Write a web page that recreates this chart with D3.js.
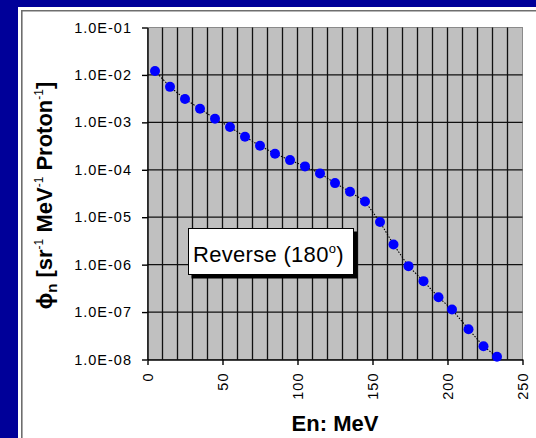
<!DOCTYPE html>
<html>
<head>
<meta charset="utf-8">
<script src="https://cdn.jsdelivr.net/npm/d3@7"></script>
<style>
  html, body { margin: 0; padding: 0; background: #ffffff; overflow: hidden; }
  svg { display: block; }
  text { font-family: "Liberation Sans", Arial, sans-serif; }
</style>
</head>
<body>
<svg id="chart" width="536" height="438"></svg>
<script>
// Neutron energy (MeV) and reverse-direction (180°) flux per proton
const energy = [5, 15, 25, 35, 45, 55, 65, 75, 85, 95, 105, 115, 125, 135, 145, 155,
                164, 174, 184, 194, 203, 214, 224, 233];
const flux = [1.21e-2, 5.6e-3, 3.1e-3, 1.94e-3, 1.19e-3, 7.96e-4, 4.97e-4, 3.2e-4,
              2.18e-4, 1.60e-4, 1.18e-4, 8.4e-5, 5.24e-5, 3.43e-5, 2.15e-5, 7.9e-6,
              2.67e-6, 9.3e-7, 4.49e-7, 2.06e-7, 1.13e-7, 4.36e-8, 1.9e-8, 1.14e-8];

const xTicks = [0, 50, 100, 150, 200, 250];
const xGrid = d3.range(0, 251, 10);
const yTicks = [1e-1, 1e-2, 1e-3, 1e-4, 1e-5, 1e-6, 1e-7, 1e-8];
const yTickLabels = ["1.0E-01", "1.0E-02", "1.0E-03", "1.0E-04",
                     "1.0E-05", "1.0E-06", "1.0E-07", "1.0E-08"];

const svg = d3.select("#chart");
const plot = { left: 147.5, right: 522.5, top: 27.5, bottom: 359.5 };

const x = d3.scaleLinear().domain([0, 250]).range([plot.left, plot.right]);
const y = d3.scaleLog().domain([1e-8, 1e-1]).range([plot.bottom, plot.top]);

// slide background: blue band on top and left, white panel with a grey frame
svg.append("rect").attr("width", 536).attr("height", 438).attr("fill", "#000099");
svg.append("rect").attr("x", 18).attr("y", 7).attr("width", 518).attr("height", 431)
  .attr("fill", "#ffffff");
svg.append("path")
  .attr("d", "M21.8,438 V10.8 H536")
  .attr("fill", "none").attr("stroke", "#6e6e6e").attr("stroke-width", 1.6);

// plot background
svg.append("rect")
  .attr("x", plot.left).attr("y", plot.top)
  .attr("width", plot.right - plot.left).attr("height", plot.bottom - plot.top)
  .attr("fill", "#c0c0c0").attr("stroke", "#8a8a8a").attr("stroke-width", 1);

// grid
const grid = svg.append("g").attr("stroke", "#111").attr("stroke-width", 1.3);
grid.selectAll("line.v").data(xGrid.filter(d => d > 0 && d < 250)).join("line")
  .attr("x1", d => x(d)).attr("x2", d => x(d))
  .attr("y1", plot.top).attr("y2", plot.bottom);
grid.selectAll("line.h").data(yTicks.filter(d => d < 1e-1 && d > 1e-8)).join("line")
  .attr("x1", plot.left).attr("x2", plot.right)
  .attr("y1", d => y(d)).attr("y2", d => y(d));

// axes
const yAxis = svg.append("g")
  .attr("transform", `translate(${plot.left},0)`)
  .call(d3.axisLeft(y).tickValues(yTicks)
    .tickFormat((d, i) => yTickLabels[i]).tickSize(5.5).tickPadding(10).tickSizeOuter(0));
const xAxis = svg.append("g")
  .attr("transform", `translate(0,${plot.bottom})`)
  .call(d3.axisBottom(x).tickValues(xTicks).tickSize(5.5).tickSizeOuter(0));

[yAxis, xAxis].forEach(a => {
  a.select(".domain").attr("stroke", "#000").attr("stroke-width", 1.4);
  a.selectAll(".tick line").attr("stroke", "#000").attr("stroke-width", 1.4);
  a.selectAll(".tick text").attr("fill", "#000")
    .style("font-family", '"Liberation Sans", Arial, sans-serif')
    .style("font-size", "14.5px").style("letter-spacing", "1px");
});
xAxis.selectAll(".tick text")
  .attr("transform", "rotate(-90)")
  .attr("text-anchor", "end")
  .attr("x", -13).attr("y", 0).attr("dy", "0.36em");

// connecting dotted curve
svg.append("path")
  .datum(energy.map((e, i) => [e, flux[i]]))
  .attr("fill", "none").attr("stroke", "#000").attr("stroke-width", 1.1)
  .attr("stroke-dasharray", "1.5,1.5")
  .attr("d", d3.line().x(d => x(d[0])).y(d => y(d[1])));

// data points
svg.append("g").selectAll("circle")
  .data(energy.map((e, i) => [e, flux[i]])).join("circle")
  .attr("cx", d => x(d[0])).attr("cy", d => y(d[1]))
  .attr("r", 5).attr("fill", "#0000ff");

// annotation box
svg.append("rect").attr("x", 191.5).attr("y", 231.5).attr("width", 166).attr("height", 47)
  .attr("fill", "#000");
svg.append("rect").attr("x", 188.5).attr("y", 228.5).attr("width", 165).attr("height", 46)
  .attr("fill", "#fff").attr("stroke", "#000").attr("stroke-width", 1);
const note = svg.append("text").attr("x", 193).attr("y", 262)
  .attr("font-size", 22).attr("fill", "#000").style("letter-spacing", "0.3px");
note.append("tspan").text("Reverse (180");
note.append("tspan").attr("dy", -9).attr("font-size", 13).text("o");
note.append("tspan").attr("dy", 9).text(")");

// axis titles
svg.append("text")
  .attr("x", x(125)).attr("y", 430.5)
  .attr("text-anchor", "middle").attr("font-size", 22).attr("font-weight", "bold")
  .attr("fill", "#000").text("En: MeV");

const yt = svg.append("text")
  .attr("transform", `translate(51.5,${(plot.top + plot.bottom) / 2 + 2}) rotate(-90)`)
  .attr("text-anchor", "middle").attr("font-size", 22).attr("font-weight", "bold")
  .attr("fill", "#000");
yt.append("tspan").text("\u03d5");
yt.append("tspan").attr("dy", 5).attr("font-size", 15).text("n");
yt.append("tspan").attr("dy", -5).text(" [sr");
yt.append("tspan").attr("dy", -9).attr("font-size", 12).attr("font-weight", "normal").text("-1");
yt.append("tspan").attr("dy", 9).text(" MeV");
yt.append("tspan").attr("dy", -9).attr("font-size", 12).attr("font-weight", "normal").text("-1");
yt.append("tspan").attr("dy", 9).text(" Proton");
yt.append("tspan").attr("dy", -9).attr("font-size", 12).attr("font-weight", "normal").text("-1");
yt.append("tspan").attr("dy", 9).text("]");
</script>
</body>
</html>
